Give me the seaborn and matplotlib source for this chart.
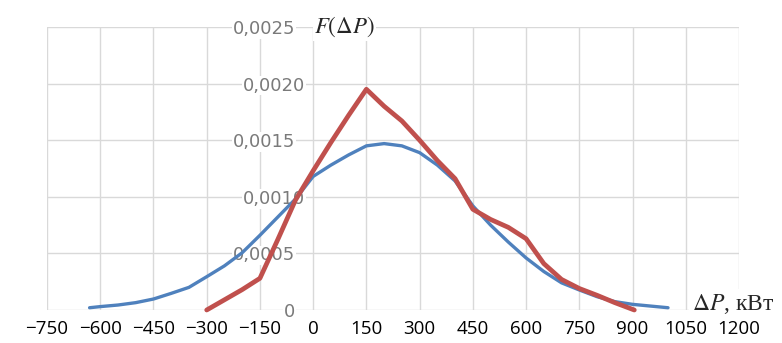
import seaborn as sns
import matplotlib.pyplot as plt
import pandas as pd

# data
blue_x = [-630, -600, -550, -500, -450, -400, -350, -300, -250, -200, -150, -100, -50,
          0, 50, 100, 150, 200, 250, 300, 350, 400, 450, 500, 550, 600, 650, 700,
          750, 800, 850, 900, 950, 1000]
blue_y = [0.00002, 0.00003, 0.000044, 0.000065, 0.000097, 0.000147, 0.0002, 0.000294,
          0.00039, 0.000506, 0.00066, 0.00082, 0.00098,
          0.00118, 0.00128, 0.00137, 0.00145, 0.00147, 0.00145, 0.00139, 0.00128,
          0.00114, 0.00092, 0.00075, 0.0006, 0.00046, 0.00034, 0.00024,
          0.000177, 0.000118, 0.000074, 0.00005, 0.000035, 0.00002]

red_x = [-300, -250, -200, -150, -100, -50, 0, 50, 100, 150, 200, 250, 300, 350, 400,
         450, 500, 550, 600, 650, 700, 750, 800, 850, 905]
red_y = [0.0, 0.00009, 0.00018, 0.00028, 0.00062, 0.00097, 0.00123, 0.00148, 0.00172,
         0.00195, 0.0018, 0.00167, 0.0015, 0.00132, 0.00116,
         0.00089, 0.0008, 0.00073, 0.00063, 0.00041, 0.00027, 0.00019, 0.00013,
         0.000065, 0.0]

x_ticks = [-750, -600, -450, -300, -150, 0, 150, 300, 450, 600, 750, 900, 1050, 1200]
x_labels = ['−750', '−600', '−450', '−300', '−150', '0', '150', '300', '450', '600',
            '750', '900', '1050', '1200']
y_ticks = [0, 0.0005, 0.001, 0.0015, 0.002, 0.0025]
y_labels = ['0', '0,0005', '0,0010', '0,0015', '0,0020', '0,0025']

blue = pd.DataFrame({'x': blue_x, 'y': blue_y})
red = pd.DataFrame({'x': red_x, 'y': red_y})

sns.set_theme(style="white")
plt.rcParams['mathtext.fontset'] = 'stix'

fig = plt.figure(figsize=(7.82, 3.43), dpi=100)
ax = fig.add_axes([0.0601, 0.0962, 0.8849, 0.8251])

# y axis crosses at x = 0 (do this first, it resets the ticks)
for s in ax.spines.values():
    s.set_visible(False)
ax.spines['left'].set_position(('data', 0))

sns.lineplot(data=blue, x='x', y='y', color='#4F81BD', lw=2.4, sort=False, ax=ax, clip_on=False)
sns.lineplot(data=red, x='x', y='y', color='#C0504D', lw=3.4, sort=False, ax=ax, clip_on=False)

ax.set_xlim(-750, 1200)
ax.set_ylim(0, 0.0025)
ax.tick_params(length=0)
ax.tick_params(axis='x', pad=7)
ax.set_axisbelow(True)
ax.grid(True, color='#D9D9D9', lw=1)

ax.set_xticks(x_ticks)
ax.set_xticklabels(x_labels, fontsize=13.5, family='Open Sans', color='black')
ax.set_yticks(y_ticks)
ax.set_yticklabels(y_labels, fontsize=13, family='DejaVu Sans', color='#7a7a7a')

# y labels alternate in the original
for i, t in enumerate(ax.yaxis.get_major_ticks()):
    t.set_pad(6 if i in (2, 4) else 13)
for lab in ax.get_yticklabels():
    lab.set_bbox(dict(facecolor='white', edgecolor='none', pad=0.5))

ax.set(xlabel=None, ylabel=None)

ax.text(3, 0.0025, r'$F(\Delta P)$', fontsize=16.5, va='center', ha='left',
        bbox=dict(facecolor='white', edgecolor='none', pad=1), zorder=1, clip_on=False)
ax.text(1068, 0.0, r'$\Delta P$, кВт', fontsize=17, va='baseline', ha='left',
        family='Liberation Serif',
        bbox=dict(facecolor='white', edgecolor='none', pad=2), zorder=1, clip_on=False)

plt.savefig('out.png', dpi=100)
